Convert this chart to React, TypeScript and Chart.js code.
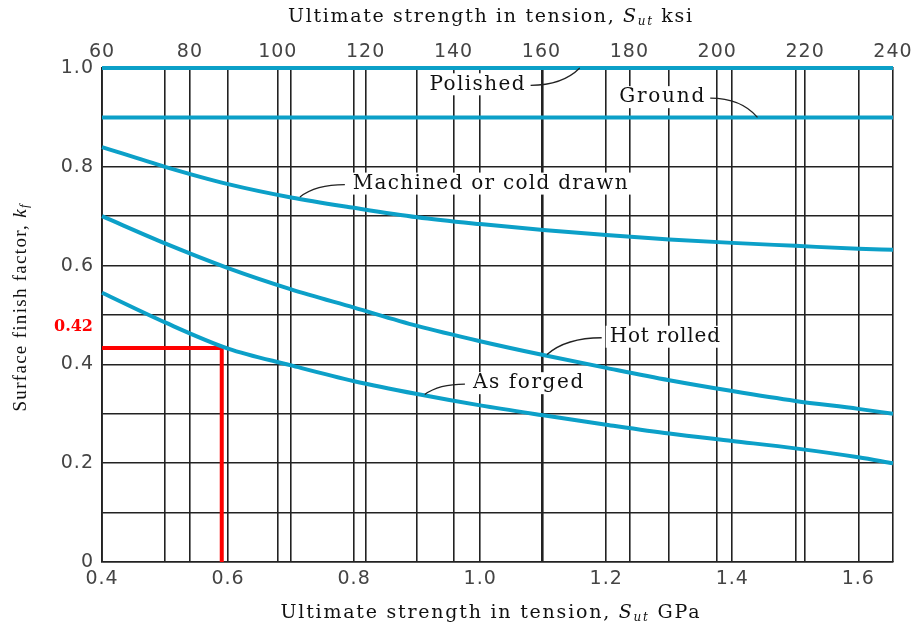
import React, { useEffect, useRef } from 'react';
import { Chart, registerables } from 'chart.js';

Chart.register(...registerables);

// ---- Data ----
const gpaValues = [0.4, 0.5, 0.6, 0.7, 0.8, 0.9, 1.0, 1.1, 1.2, 1.3, 1.4, 1.5, 1.6, 1.655];
const machined = [0.84, 0.8, 0.765, 0.738, 0.717, 0.698, 0.684, 0.672, 0.662, 0.653, 0.646, 0.64, 0.634, 0.632];
const hotRolled = [0.7, 0.645, 0.595, 0.552, 0.515, 0.478, 0.447, 0.419, 0.393, 0.368, 0.346, 0.326, 0.31, 0.3];
const asForged = [0.545, 0.485, 0.432, 0.398, 0.366, 0.34, 0.317, 0.297, 0.278, 0.26, 0.245, 0.23, 0.212, 0.2];
const polishedLevel = 1.0;
const groundLevel = 0.9;

const gpaMin = 0.4;
const gpaMax = 1.655;
const ksiMin = 60;
const ksiMax = 240;

const gpaGridTicks = [0.4, 0.5, 0.6, 0.7, 0.8, 0.9, 1.0, 1.1, 1.2, 1.3, 1.4, 1.5, 1.6];
const gpaLabelTicks = [0.4, 0.6, 0.8, 1.0, 1.2, 1.4, 1.6];
const ksiTicks = [60, 80, 100, 120, 140, 160, 180, 200, 220, 240];
const kGridTicks = [0, 0.1, 0.2, 0.3, 0.4, 0.5, 0.6, 0.7, 0.8, 0.9, 1.0];
const kLabelTicks = [0, 0.2, 0.4, 0.6, 0.8, 1.0];

// worked example (red)
const exampleX = [0.4, 0.59, 0.59];
const exampleY = [0.433, 0.433, 0];
const exampleLabel = '0.42';

// curve labels: text, text centre (GPa, k), text width (GPa span), leader side, leader end (GPa, k)
const curveLabels = [
  { text: 'Polished', at: [0.995, 0.967], span: 0.151, side: 'right', to: [1.158, 1.0] },
  { text: 'Ground', at: [1.288, 0.941], span: 0.135, side: 'right', to: [1.44, 0.9] },
  { text: 'Machined or cold drawn', at: [1.016, 0.766], span: 0.436, side: 'left', to: [0.714, 0.739] },
  { text: 'Hot rolled', at: [1.293, 0.456], span: 0.175, side: 'left', to: [1.106, 0.42] },
  { text: 'As forged', at: [1.076, 0.362], span: 0.175, side: 'left', to: [0.912, 0.339] },
];

const BLUE = '#0ca0c8';
const SERIF = '"DejaVu Serif", serif';
const SERIF2 = '"Liberation Serif", serif';
const SANS = '"DejaVu Sans", sans-serif';

const pts = (xs: number[], ys: number[]) => xs.map((v, i) => ({ x: v, y: ys[i] }));

type Part = { t: string; font: string; dy?: number };

// draws mixed-font text centred at (cx, cy), stretched with letter spacing to a target width
function drawRich(ctx: CanvasRenderingContext2D, parts: Part[], cx: number, cy: number, target?: number) {
  (ctx as any).letterSpacing = '0px';
  let natural = 0;
  let chars = 0;
  parts.forEach((p) => {
    ctx.font = p.font;
    natural += ctx.measureText(p.t).width;
    chars += p.t.length;
  });
  const ls = target ? Math.max(-1, (target - natural) / Math.max(1, chars - 1)) : 0;
  (ctx as any).letterSpacing = `${ls}px`;
  let total = 0;
  const widths = parts.map((p) => {
    ctx.font = p.font;
    const w = ctx.measureText(p.t).width;
    total += w;
    return w;
  });
  total -= ls;
  let x = cx - total / 2;
  ctx.textAlign = 'left';
  ctx.textBaseline = 'middle';
  parts.forEach((p, i) => {
    ctx.font = p.font;
    ctx.fillText(p.t, x, cy + (p.dy || 0));
    x += widths[i];
  });
  (ctx as any).letterSpacing = '0px';
}

const overlayPlugin = {
  id: 'overlay',
  beforeDraw(chart: any) {
    (chart.ctx as any).letterSpacing = '1px';
  },
  afterDatasetsDraw(chart: any) {
    const { ctx, chartArea } = chart;
    const xs = chart.scales.x;
    const ys = chart.scales.y;
    ctx.save();
    // curve labels
    curveLabels.forEach((a) => {
      const cx = xs.getPixelForValue(a.at[0]);
      const cy = ys.getPixelForValue(a.at[1]);
      const w = xs.getPixelForValue(a.at[0] + a.span / 2) - xs.getPixelForValue(a.at[0] - a.span / 2);
      ctx.fillStyle = '#ffffff';
      ctx.fillRect(cx - w / 2 - 4, cy - 11, w + 8, 22);
      ctx.fillStyle = '#111';
      drawRich(ctx, [{ t: a.text, font: `20px ${SERIF}` }], cx, cy, w);
      const sx = a.side === 'right' ? cx + w / 2 + 6 : cx - w / 2 - 8;
      const sy = cy + 1;
      const ex = xs.getPixelForValue(a.to[0]);
      const ey = ys.getPixelForValue(a.to[1]);
      ctx.beginPath();
      ctx.moveTo(sx, sy);
      ctx.quadraticCurveTo(sx + 0.65 * (ex - sx), sy, ex, ey);
      ctx.strokeStyle = '#222';
      ctx.lineWidth = 1.3;
      ctx.stroke();
    });
    // red example label
    ctx.fillStyle = '#ff0000';
    ctx.font = `bold 16px ${SERIF}`;
    (ctx as any).letterSpacing = '0px';
    ctx.textAlign = 'right';
    ctx.textBaseline = 'middle';
    ctx.fillText(exampleLabel, chartArea.left - 9, ys.getPixelForValue(exampleY[0]) - 21);
    ctx.restore();
  },
  afterDraw(chart: any) {
    const { ctx } = chart;
    ctx.save();
    ctx.fillStyle = '#111';
    const f = `19px ${SERIF}`;
    const fi = `italic 19px ${SERIF}`;
    const fs = `italic 12px ${SERIF}`;
    drawRich(ctx, [
      { t: 'Ultimate strength in tension, ', font: f },
      { t: 'S', font: fi },
      { t: 'ut', font: fs, dy: 5 },
      { t: ' ksi', font: f },
    ], 490, 17, 404);
    drawRich(ctx, [
      { t: 'Ultimate strength in tension, ', font: f },
      { t: 'S', font: fi },
      { t: 'ut', font: fs, dy: 5 },
      { t: ' GPa', font: f },
    ], 490, 613, 419);
    ctx.translate(21, 308);
    ctx.rotate(-Math.PI / 2);
    drawRich(ctx, [
      { t: 'Surface finish factor, ', font: `19px ${SERIF2}` },
      { t: 'k', font: `italic 19px ${SERIF2}` },
      { t: 'f', font: `italic 13px ${SERIF2}`, dy: 4 },
    ], 0, 0, 207);
    ctx.restore();
  },
};

export default function App() {
  const ref = useRef<HTMLCanvasElement>(null);
  useEffect(() => {
    document.body.style.margin = '0';
    if (!ref.current) return;
    const lineDs = (data: any[], color: string, width: number) => ({
      data,
      showLine: true,
      borderColor: color,
      backgroundColor: color,
      borderWidth: width,
      pointRadius: 0,
      cubicInterpolationMode: 'monotone' as const,
      clip: false as const,
      xAxisID: 'x',
      yAxisID: 'y',
    });
    const tickFont = { family: SANS, size: 19 };
    const gridCfg = { color: '#222', lineWidth: 1.6, drawTicks: false };
    const borderCfg = { color: '#222', width: 1.6 };
    const chart = new Chart(ref.current, {
      type: 'scatter',
      data: {
        datasets: [
          lineDs(pts([gpaMin, gpaMax], [polishedLevel, polishedLevel]), BLUE, 4),
          lineDs(pts([gpaMin, gpaMax], [groundLevel, groundLevel]), BLUE, 4),
          lineDs(pts(gpaValues, machined), BLUE, 4),
          lineDs(pts(gpaValues, hotRolled), BLUE, 4),
          lineDs(pts(gpaValues, asForged), BLUE, 4),
          { ...lineDs(pts(exampleX, exampleY), '#ff0000', 4), cubicInterpolationMode: 'default' as const, tension: 0 },
        ],
      },
      options: {
        animation: false,
        responsive: false,
        layout: { padding: { left: 0, right: 25, top: 0, bottom: 0 } },
        plugins: { legend: { display: false }, tooltip: { enabled: false } },
        scales: {
          x: {
            type: 'linear',
            position: 'bottom',
            min: gpaMin,
            max: gpaMax,
            afterBuildTicks: (s: any) => { s.ticks = gpaGridTicks.map((v) => ({ value: v })); },
            afterFit: (s: any) => { s.height = 70; },
            ticks: {
              autoSkip: false,
              maxRotation: 0,
              padding: 6,
              color: '#444',
              font: tickFont,
              callback: (v: any) => (gpaLabelTicks.some((t) => Math.abs(t - v) < 1e-6) ? Number(v).toFixed(1) : ''),
            },
            grid: gridCfg,
            border: borderCfg,
          },
          xTop: {
            type: 'linear',
            position: 'top',
            min: ksiMin,
            max: ksiMax,
            afterBuildTicks: (s: any) => { s.ticks = ksiTicks.map((v) => ({ value: v })); },
            afterFit: (s: any) => { s.height = 68; },
            ticks: {
              autoSkip: false,
              maxRotation: 0,
              padding: 5,
              color: '#444',
              font: tickFont,
              callback: (v: any) => String(v),
            },
            grid: gridCfg,
            border: borderCfg,
          },
          y: {
            type: 'linear',
            position: 'left',
            min: 0,
            max: 1,
            afterBuildTicks: (s: any) => { s.ticks = kGridTicks.map((v) => ({ value: v })); },
            afterFit: (s: any) => { s.width = 102; },
            ticks: {
              autoSkip: false,
              padding: 8,
              color: '#444',
              font: tickFont,
              callback: (v: any) =>
                kLabelTicks.some((t) => Math.abs(t - v) < 1e-6) ? (Math.abs(v) < 1e-6 ? '0' : Number(v).toFixed(1)) : '',
            },
            grid: gridCfg,
            border: borderCfg,
          },
        },
      },
      plugins: [overlayPlugin],
    });
    return () => chart.destroy();
  }, []);
  return (
    <div style={{ position: 'absolute', left: 0, top: 0, width: 918, height: 632, background: '#fff' }}>
      <canvas ref={ref} width={918} height={632} />
    </div>
  );
}
